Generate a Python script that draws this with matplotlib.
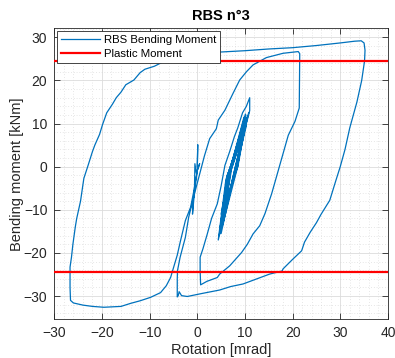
import matplotlib
matplotlib.use("Agg")
import matplotlib.pyplot as plt
from matplotlib.ticker import MultipleLocator

plt.rcParams['font.family'] = ['Liberation Sans', 'DejaVu Sans']

# Rotation [mrad] and bending moment [kNm] of the RBS test
rotation = [
    0.0, 0.1, 0.0, -0.9, -1.0, -0.6, -0.5, -0.2, 0.5,
    0.0, -0.7, -1.4, -2.5, -3.5, -4.2, -5.0, -5.6, -6.5, -7.7, -9.8, -12.0, -14.0,
    -16.0, -19.6, -22.0, -24.0, -26.0, -26.6, -26.7, -26.7, -26.4, -26.1, -25.6,
    -25.3, -24.5, -23.8, -23.0, -22.0, -21.5, -20.5, -19.9, -19.0, -17.8, -17.0,
    -16.0, -15.0, -13.3, -12.0, -11.0, -9.0, -7.0, -5.0, -2.0, 2.0, 5.0, 10.0,
    15.0, 20.0, 25.0, 30.0, 33.0, 34.4, 35.0, 35.2, 35.1, 34.5, 33.5, 32.0, 31.0,
    30.0, 29.0, 27.8, 26.0, 25.0, 23.7, 22.5, 21.9, 20.0, 18.0, 17.8, 15.2, 12.5,
    9.6, 7.0, 4.7, 1.0, -2.1, -3.3, -3.8, -4.0, -4.2, -4.2, -4.15, -3.6, -2.5,
    -1.8, -0.4, 0.7,
    1.5, 2.6, 4.0, 4.4, 5.8, 7.5, 8.9, 10.3, 11.7, 14.5, 18.0, 21.2, 21.5, 21.4,
    20.5, 19.1, 18.0, 17.0, 15.6, 14.2, 13.1, 11.7, 10.5, 9.3, 8.0, 6.8, 4.7, 4.2,
    2.0, 0.7, 0.6, 0.6, 1.2, 2.1, 3.0, 4.2, 5.0, 5.8, 6.8, 7.8, 8.5, 9.5, 10.3,
    11.0, 11.0,
    8.0, 4.4, 6.0, 10.8, 8.1, 4.6, 6.2, 10.5, 8.3, 4.8, 6.4, 10.2, 8.0, 5.0, 6.6,
    10.0, 8.2, 5.3, 6.8, 9.8, 8.4, 4.7, 6.3, 10.3, 8.1, 5.5, 7.0, 9.6, 8.5, 5.0,
    6.7, 10.1, 8.3, 5.8, 7.2, 9.9, 8.6, 5.2, 6.9, 10.4, 8.4, 6.0,
]
moment = [
    0.0, 5.1, -1.0, -8.0, -11.0, -6.0, 0.7, -1.5, 0.7,
    -0.9, -5.5, -9.4, -12.5, -17.1, -20.5, -23.5, -25.7, -27.6, -29.2, -30.3, -31.1,
    -31.7, -32.4, -32.6, -32.4, -32.1, -31.6, -31.0, -28.0, -23.3, -21.0, -18.0,
    -14.0, -12.0, -8.0, -2.7, 0.0, 3.5, 5.0, 7.5, 9.7, 12.5, 14.5, 16.0, 17.3,
    19.0, 20.1, 21.8, 22.6, 23.3, 24.4, 25.2, 25.9, 26.5, 26.6, 26.9, 27.3, 27.6,
    28.1, 28.7, 29.1, 29.2, 28.7, 27.0, 24.5, 20.0, 15.0, 9.0, 4.0, 0.0, -3.5,
    -7.8, -11.0, -13.0, -15.2, -17.5, -19.5, -21.5, -23.7, -24.2, -24.9, -26.0,
    -27.2, -27.8, -28.6, -29.4, -30.1, -29.9, -29.0, -29.9, -30.2, -26.0, -24.1,
    -21.0, -16.4, -11.7, -5.5, -0.9,
    2.5, 6.5, 8.8, 10.8, 13.1, 17.0, 20.1, 22.0, 23.6, 25.3, 26.3, 26.7, 26.2,
    13.6, 10.5, 7.3, 3.0, -0.9, -6.3, -10.9, -13.7, -15.6, -18.0, -19.9, -21.5,
    -23.0, -24.9, -25.7, -26.6, -27.4, -24.0, -21.0, -19.0, -15.6, -12.0, -8.6,
    -4.5, 0.3, 3.5, 7.0, 9.0, 12.5, 14.0, 16.0, 13.0,
    0.0, -17.0, -3.0, 12.5, 0.5, -16.0, -2.5, 11.5, 0.0, -14.5, -2.0, 12.0, -0.5,
    -15.5, -1.5, 10.5, 0.0, -13.0, -1.0, 11.5, 0.5, -15.0, -2.0, 9.5, -0.5, -12.0,
    -1.0, 10.0, 0.0, -11.0, -1.5, 12.2, 0.0, -10.0, -0.5, 8.5, 0.5, -14.0, -1.5,
    11.0, 0.0, -9.0,
]
plastic_moment = 24.4
x_limits = [-30, 40]
y_limits = [-35.4, 32.1]

fig = plt.figure(figsize=(3.95, 3.58), dpi=100)
ax = fig.add_axes([0.1375, 0.108, 0.8445, 0.813])

ax.plot(rotation, moment, color=(0.0, 0.447, 0.741), lw=0.9,
        label='RBS Bending Moment', zorder=3)
ax.axhline(plastic_moment, color='red', lw=1.6, label='Plastic Moment', zorder=4)
ax.axhline(-plastic_moment, color='red', lw=1.6, zorder=4)

ax.set_xlim(x_limits)
ax.set_ylim(y_limits)
ax.xaxis.set_major_locator(MultipleLocator(10))
ax.yaxis.set_major_locator(MultipleLocator(10))
ax.xaxis.set_minor_locator(MultipleLocator(2))
ax.yaxis.set_minor_locator(MultipleLocator(2))
ax.grid(True, which='major', color='#dcdcdc', lw=0.6, zorder=0)
ax.grid(True, which='minor', color='#d0d0d0', lw=0.5, linestyle=(0, (1, 3)), zorder=0)
ax.set_axisbelow(True)

grey = '#262626'
ax.tick_params(which='major', direction='in', length=4, width=0.6, top=True,
               right=True, colors=grey, labelsize=10, pad=5)
ax.tick_params(which='minor', length=0, top=True, right=True)
for s in ax.spines.values():
    s.set_color(grey)
    s.set_linewidth(0.6)

ax.set_xlabel('Rotation [mrad]', fontsize=10.5, color=grey, labelpad=2)
ax.set_ylabel('Bending moment [kNm]', fontsize=10.5, color=grey, labelpad=0)
ax.set_title('RBS n°3', fontsize=10.5, fontweight='bold', color='black', pad=6)

leg = ax.legend(loc='upper left', fontsize=8.2, frameon=True, fancybox=False,
                borderaxespad=0.2, handlelength=3.5, borderpad=0.35,
                labelspacing=0.35, handletextpad=0.3)
leg.get_frame().set_edgecolor(grey)
leg.get_frame().set_linewidth(0.6)
leg.get_frame().set_alpha(1)

fig.savefig('out.png', dpi=100)
